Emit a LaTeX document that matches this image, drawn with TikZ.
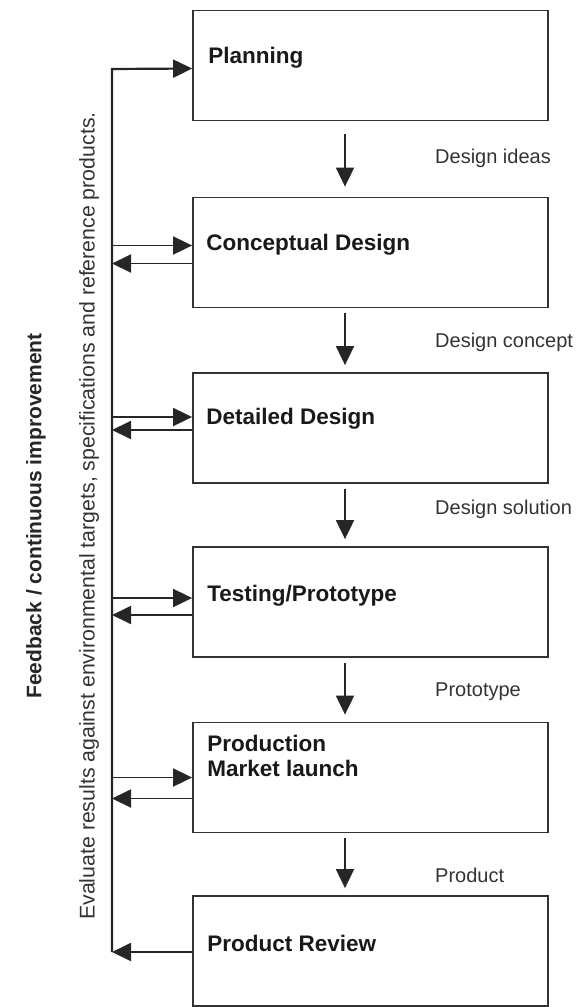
\documentclass[tikz,border=0pt]{standalone}
\usepackage{fontspec}
\setmainfont{Liberation Sans}
\usetikzlibrary{arrows.meta}

\begin{document}
\begin{tikzpicture}[x=1pt,y=-1pt]
\tikzstyle{stage}=[rectangle,draw=black!80,line width=1.8pt,minimum width=355pt,minimum height=110pt,inner sep=0pt]
\tikzstyle{stagetext}=[anchor=base west,font=\fontsize{22.5}{25}\selectfont\bfseries,text=black!90,inner sep=0pt,align=left]
\tikzstyle{output}=[anchor=west,font=\fontsize{20}{24}\selectfont,text=black!80,inner sep=0pt]
\tikzstyle{flow}=[-{Triangle[length=19pt,width=18pt]},line width=1.9pt,draw=black!85]

\useasboundingbox (0,0) rectangle (587,1007);

\node[stage](Planning) at (370.5,65.5){};
\node[stage](Concept) at (370.5,252.5){};
\node[stage](Detailed) at (370.5,428){};
\node[stage](Testing) at (370.5,602){};
\node[stage](Production) at (370.5,777.5){};
\node[stage](Review) at (370.5,951){};

\node[stagetext](PlanningText) at ([shift={(16pt,2pt)}]Planning.west){Planning};
\node[stagetext](ConceptText) at ([shift={(14pt,2pt)}]Concept.west){Conceptual Design};
\node[stagetext](DetailedText) at ([shift={(14pt,4pt)}]Detailed.west){Detailed Design};
\node[stagetext](TestingText) at ([shift={(15pt,1pt)}]Testing.west){Testing/Prototype};
\node[stagetext](ProductionText) at ([shift={(15pt,1.5pt)}]Production.west){Production\\Market launch};
\node[stagetext](ReviewText) at ([shift={(15pt,0pt)}]Review.west){Product Review};

\node[output](IdeasLabel) at (435,158){Design ideas};
\node[output](ConceptLabel) at (435,342){Design concept};
\node[output](SolutionLabel) at (435,509){Design solution};
\node[output](PrototypeLabel) at (435,692){Prototype};
\node[output](ProductLabel) at (435,875){Product};

\node[rotate=90,font=\fontsize{21}{24}\selectfont\bfseries,text=black!85](FeedbackText) at (36,516){Feedback / continuous improvement};
\node[rotate=90,font=\fontsize{21.3}{24}\selectfont,text=black!80](EvaluateText) at (89,516){Evaluate results against environmental targets, specifications and reference products.};

\coordinate (Ax) at (345,0);
\coordinate (FbTop) at (112,69);
\coordinate (FbBottom) at (112,952);

\draw[flow,shorten <=13pt,shorten >=10pt] (Planning.south -| Ax) -- (Concept.north -| Ax);
\draw[flow,shorten <=5pt,shorten >=7pt] (Concept.south -| Ax) -- (Detailed.north -| Ax);
\draw[flow,shorten <=5pt,shorten >=7pt] (Detailed.south -| Ax) -- (Testing.north -| Ax);
\draw[flow,shorten <=5pt,shorten >=7pt] (Testing.south -| Ax) -- (Production.north -| Ax);
\draw[flow,shorten <=5pt,shorten >=7pt] (Production.south -| Ax) -- (Review.north -| Ax);

\draw[flow,line width=2.2pt] (FbBottom) -- (FbTop) -- ([yshift=-3pt]Planning.west);
\draw[flow] ([yshift=7pt]Concept.west -| FbTop) -- ([yshift=7pt]Concept.west);
\draw[flow] ([yshift=-11pt]Concept.west) -- ([yshift=-11pt]Concept.west -| FbTop);
\draw[flow] ([yshift=11pt]Detailed.west -| FbTop) -- ([yshift=11pt]Detailed.west);
\draw[flow] ([yshift=-2pt]Detailed.west) -- ([yshift=-2pt]Detailed.west -| FbTop);
\draw[flow] ([yshift=4pt]Testing.west -| FbTop) -- ([yshift=4pt]Testing.west);
\draw[flow] ([yshift=-13pt]Testing.west) -- ([yshift=-13pt]Testing.west -| FbTop);
\draw[flow] ([yshift=0pt]Production.west -| FbTop) -- ([yshift=0pt]Production.west);
\draw[flow] ([yshift=-21pt]Production.west) -- ([yshift=-21pt]Production.west -| FbTop);
\draw[flow] ([yshift=-1pt]Review.west) -- (FbBottom);

\end{tikzpicture}
\end{document}
